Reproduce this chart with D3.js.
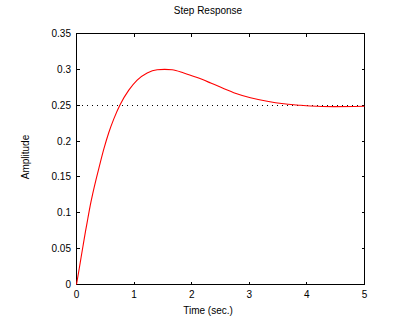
<!DOCTYPE html>
<html><head><meta charset="utf-8">
<script src="https://cdn.jsdelivr.net/npm/d3@7"></script>
<style>
html,body{margin:0;padding:0;background:#fff;}
text{font-family:"Liberation Sans",Arial,Helvetica,sans-serif;font-size:10px;fill:#000;}
</style></head>
<body>
<svg id="chart" width="404" height="328"></svg>
<script>
const title = "Step Response";
const xLabel = "Time (sec.)";
const yLabel = "Amplitude";
const xTicks = [0, 1, 2, 3, 4, 5];
const yTicks = [0, 0.05, 0.1, 0.15, 0.2, 0.25, 0.3, 0.35];
const yTickLabels = ["0", "0.05", "0.1", "0.15", "0.2", "0.25", "0.3", "0.35"];
const finalValue = 0.25;
const time = [0, 0.047, 0.08, 0.12, 0.156, 0.197, 0.238, 0.283, 0.341, 0.388, 0.475, 0.561, 0.648, 0.752, 0.908, 1.053, 1.227, 1.40, 1.53, 1.66, 1.863, 2.095, 2.33, 2.73, 3.02, 3.31, 3.6, 3.83, 4.06, 4.47, 5];
const amplitude = [0, 0.022, 0.038, 0.057, 0.074, 0.092, 0.110, 0.127, 0.147, 0.162, 0.189, 0.212, 0.231, 0.25, 0.271, 0.285, 0.295, 0.2995, 0.3, 0.2995, 0.295, 0.2885, 0.281, 0.2675, 0.2605, 0.2555, 0.252, 0.2503, 0.2488, 0.248, 0.2485];

const svg = d3.select("#chart");
const x = d3.scaleLinear().domain([0, 5]).range([76.5, 364.5]);
const y = d3.scaleLinear().domain([0, 0.35]).range([284.5, 33.5]);
const tl = 3;

const g = svg.append("g");
// frame
g.append("rect").attr("x", x(0)).attr("y", y(0.35))
  .attr("width", x(5) - x(0)).attr("height", y(0) - y(0.35))
  .attr("fill", "none").attr("stroke", "#000").attr("stroke-width", 1)
  .attr("shape-rendering", "crispEdges");

// ticks
const tk = g.append("g").attr("stroke", "#000").attr("stroke-width", 1).attr("shape-rendering", "crispEdges");
xTicks.forEach(t => {
  const px = Math.round(x(t) - 0.5) + 0.5;
  tk.append("line").attr("x1", px).attr("x2", px).attr("y1", y(0)).attr("y2", y(0) - tl);
  tk.append("line").attr("x1", px).attr("x2", px).attr("y1", y(0.35)).attr("y2", y(0.35) + tl);
});
yTicks.forEach(v => {
  const py = Math.round(y(v) - 0.5) + 0.5;
  tk.append("line").attr("x1", x(0)).attr("x2", x(0) + tl).attr("y1", py).attr("y2", py);
  tk.append("line").attr("x1", x(5)).attr("x2", x(5) - tl).attr("y1", py).attr("y2", py);
});

// tick labels
g.selectAll(".xl").data(xTicks).enter().append("text")
  .attr("x", d => x(d)).attr("y", 298).attr("text-anchor", "middle").text(d => d);
g.selectAll(".yl").data(yTicks).enter().append("text")
  .attr("x", 71).attr("y", d => y(d)).attr("dy", "0.35em").attr("text-anchor", "end")
  .text((d, i) => yTickLabels[i]);

// final value dotted line
const fy = Math.round(y(finalValue) - 0.5) + 0.5;
g.append("line").attr("x1", x(0)).attr("x2", x(5)).attr("y1", fy).attr("y2", fy)
  .attr("stroke", "#000").attr("stroke-width", 1).attr("stroke-dasharray", "1,4")
  .attr("shape-rendering", "crispEdges");

// curve
const line = d3.line().x((d, i) => x(time[i])).y(d => y(d)).curve(d3.curveMonotoneX);
g.append("path").datum(amplitude).attr("d", line)
  .attr("fill", "none").attr("stroke", "#ff0000").attr("stroke-width", 1.1);

// labels
svg.append("text").attr("x", 208).attr("y", 14).attr("text-anchor", "middle").text(title);
svg.append("text").attr("x", 208).attr("y", 314).attr("text-anchor", "middle").text(xLabel);
svg.append("text").attr("transform", "translate(29,157) rotate(-90)").attr("text-anchor", "middle").text(yLabel);
</script>
</body></html>
